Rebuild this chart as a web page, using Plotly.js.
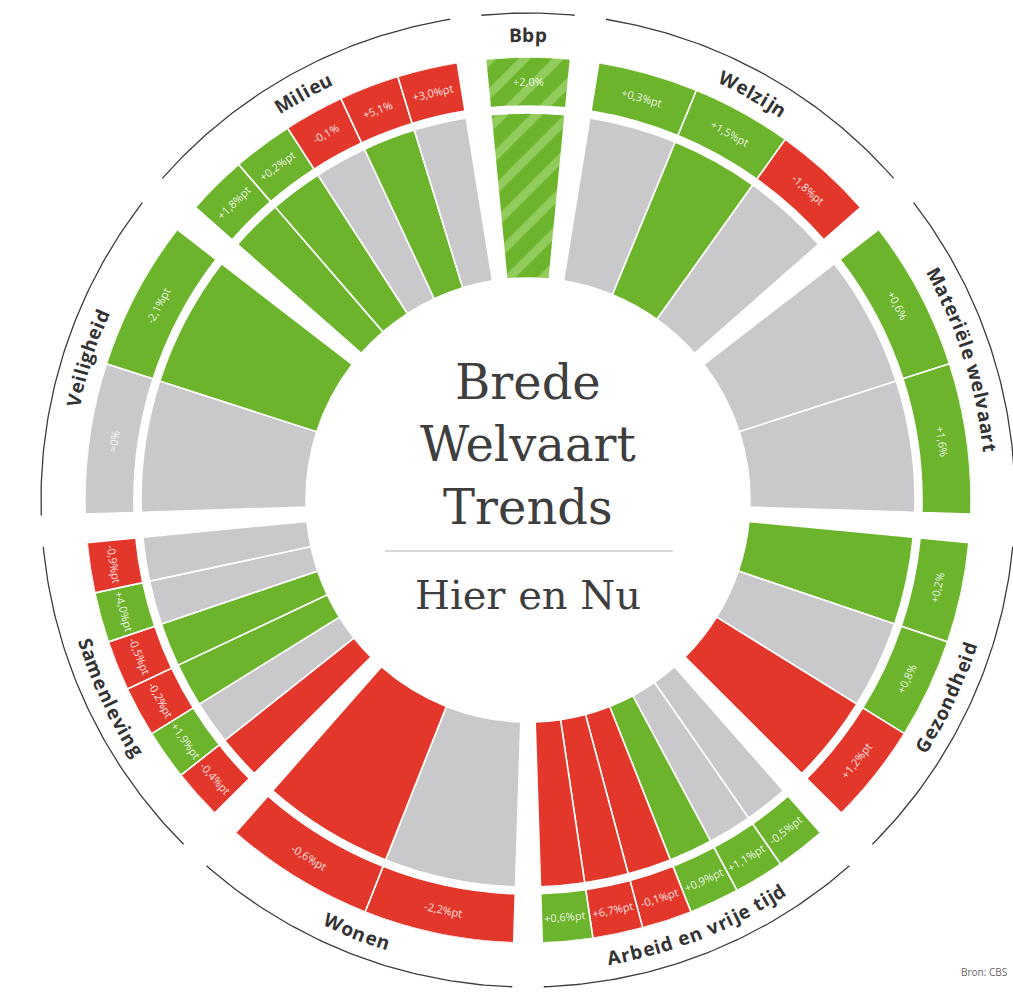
<!DOCTYPE html>
<html><head><meta charset="utf-8">
<script src="https://cdn.plot.ly/plotly-3.0.1.min.js"></script>
<style>html,body{margin:0;padding:0;background:#fff}#chart{width:1013px;height:997px}</style>
</head><body><div id="chart"></div>
<script>
// ---------- DATA (clockwise from the top) ----------
const categories = ['Bbp','Welzijn','Materiële welvaart','Gezondheid','Arbeid en vrije tijd','Wonen','Samenleving','Veiligheid','Milieu'];
// long-term trend per indicator (inner wedges): pos = improving, neu = stable, neg = worsening
const innerTrend = [
  ['pos'],
  ['neu','pos','neu'],
  ['neu','neu'],
  ['pos','neu','neg'],
  ['neu','neu','pos','neg','neg','neg'],
  ['neu','neg'],
  ['neg','neu','pos','pos','neu','neu'],
  ['neu','pos'],
  ['pos','pos','neu','pos','neu']
];
// latest-year trend per indicator (outer ring)
const outerTrend = [
  ['pos'],
  ['pos','pos','neg'],
  ['pos','pos'],
  ['pos','pos','neg'],
  ['pos','pos','pos','neg','neg','pos'],
  ['neg','neg'],
  ['neg','pos','neg','neg','pos','neg'],
  ['neu','pos'],
  ['pos','pos','neg','neg','neg']
];
// latest-year change labels (outer ring)
const outerChange = [
  ['+2,0%'],
  ['+0,3%pt','+1,5%pt','-1,8%pt'],
  ['+0,6%','+1,6%'],
  ['+0,2%','+0,8%','+1,2%pt'],
  ['-0,5%pt','+1,1%pt','+0,9%pt','-0,1%pt','+6,7%pt','+0,6%pt'],
  ['-2,2%pt','-0,6%pt'],
  ['-0,4%pt','+1,9%pt','-0,2%pt','-0,5%pt','+4,0%pt','-0,9%pt'],
  ['≈0%','-2,1%pt'],
  ['+1,8%pt','+0,2%pt','-0,1%','+5,1%','+3,0%pt']
];
const stripedCategories = ['Bbp'];
const centerTitle = ['Brede','Welvaart','Trends'];
const centerSubtitle = 'Hier en Nu';
const sourceNote = 'Bron: CBS';

// ---------- STYLE / GEOMETRY ----------
const W = 1013, H = 997;
const CX = 528, CY = 500;             // pixel centre (from top-left)
const R_HOLE = 222, R_IN_END = 387, R_OUT_START = 394, R_OUT_END = 443;
const R_VAL = (R_OUT_START + R_OUT_END) / 2, R_CAT = 465, R_ARC = 487;
const GAP = 3.7, BBP_SPAN = 11;
const COLORS = {pos:'#6cb42c', neu:'#c9c8ca', neg:'#e4372b'};
const STRIPE = '#92cc5c';
const TXT = '#333333';

const CAT_SPAN = (360 - BBP_SPAN - GAP * categories.length) / (categories.length - 1);
const spans = [];
let a0 = -BBP_SPAN / 2;
categories.forEach((c, i) => {
  const w = i === 0 ? BBP_SPAN : CAT_SPAN;
  spans.push([a0, a0 + w]);
  a0 += w + GAP;
});

const theta = [], width = [], inCol = [], outCol = [];
const striped = []; // separate traces so the pattern colours are honoured
const valAnns = [];
function ta(th) { // tangential text angle that stays readable
  let t = ((th % 360) + 360) % 360;
  if (t > 90 && t < 270) return t - 180;
  return t > 180 ? t - 360 : t;
}
const rad = d => d * Math.PI / 180;

categories.forEach((c, ci) => {
  const n = innerTrend[ci].length;
  const sw = (spans[ci][1] - spans[ci][0]) / n;
  for (let i = 0; i < n; i++) {
    const th = spans[ci][0] + sw * (i + 0.5);
    if (stripedCategories.includes(c)) {
      striped.push({th: th, w: sw, inC: COLORS[innerTrend[ci][i]], outC: COLORS[outerTrend[ci][i]]});
    } else {
      theta.push(th); width.push(sw);
      inCol.push(COLORS[innerTrend[ci][i]]);
      outCol.push(COLORS[outerTrend[ci][i]]);
    }
    valAnns.push({
      x: R_VAL * Math.sin(rad(th)), y: R_VAL * Math.cos(rad(th)), xref:'x', yref:'y',
      text: outerChange[ci][i], showarrow:false, textangle: ta(th),
      xanchor:'center', yanchor:'middle',
      font:{family:'Open Sans', size:11, color:'rgba(255,255,255,0.88)'}
    });
  }
});

const LINE = {color:'#ffffff', width:1.6};
const traces = [
  {type:'barpolar', theta: theta, r: theta.map(() => R_IN_END - R_HOLE), base: R_HOLE, width: width,
   marker:{color: inCol, line: LINE}, hoverinfo:'skip', showlegend:false},
  {type:'barpolar', theta: theta, r: theta.map(() => R_OUT_END - R_OUT_START), base: R_OUT_START, width: width,
   marker:{color: outCol, line: LINE}, hoverinfo:'skip', showlegend:false}
];
striped.forEach(s => {
  [[R_HOLE, R_IN_END, s.inC], [R_OUT_START, R_OUT_END, s.outC]].forEach(([b, e, col]) => {
    traces.push({type:'barpolar', theta:[s.th], r:[e - b], base: b, width:[s.w],
      marker:{color: col, line: LINE,
        pattern:{shape:'/', bgcolor: col, fgcolor: STRIPE, size: 24, solidity: 0.36, fillmode:'replace'}},
      hoverinfo:'skip', showlegend:false});
  });
});

// arcs around each category
const ax = [], ay = [];
spans.forEach(s => {
  const steps = 60;
  for (let k = 0; k <= steps; k++) {
    const th = s[0] + (s[1] - s[0]) * k / steps;
    ax.push(R_ARC * Math.sin(rad(th))); ay.push(R_ARC * Math.cos(rad(th)));
  }
  ax.push(null); ay.push(null);
});
traces.push({type:'scatter', mode:'lines', x: ax, y: ay, xaxis:'x', yaxis:'y',
  line:{color:'#3c3c3c', width:1.3}, hoverinfo:'skip', showlegend:false, cliponaxis:false});

// category labels laid out character by character along the arc
const catAnns = [];
const CAT_FONT = 19;
const ctx = document.createElement('canvas').getContext('2d');
ctx.font = "bold " + CAT_FONT + "px 'Open Sans'";
categories.forEach((c, ci) => {
  const thc = (spans[ci][0] + spans[ci][1]) / 2;
  const tn = ((thc % 360) + 360) % 360;
  const bottom = tn > 90 && tn < 270;
  const chars = [...c];
  const ws = chars.map(ch => ctx.measureText(ch).width + 0.8);
  const total = ws.reduce((s, w) => s + w, 0);
  let s = -total / 2;
  chars.forEach((ch, i) => {
    const mid = s + ws[i] / 2; s += ws[i];
    if (ch === ' ') return;
    const d = mid / R_CAT * 180 / Math.PI;
    const th = bottom ? thc - d : thc + d;
    catAnns.push({
      x: R_CAT * Math.sin(rad(th)), y: R_CAT * Math.cos(rad(th)), xref:'x', yref:'y',
      text: ch, showarrow:false, textangle: ta(th), xanchor:'center', yanchor:'middle',
      font:{family:'Open Sans', size:CAT_FONT, color:TXT, weight:700}
    });
  });
});

const centerAnns = [
  {x:0, y:56, xref:'x', yref:'y', text: centerTitle.join('<br>'), showarrow:false,
   xanchor:'center', yanchor:'middle', align:'center',
   font:{family:'DejaVu Serif', size:48, color:'#3e3e3e'}},
  {x:0, y:-95, xref:'x', yref:'y', text: centerSubtitle, showarrow:false,
   xanchor:'center', yanchor:'middle',
   font:{family:'DejaVu Serif', size:40, color:'#3e3e3e'}},
  {x:1009/W, y:(H-972)/H, xref:'paper', yref:'paper', text: sourceNote, showarrow:false,
   xanchor:'right', yanchor:'middle', font:{family:'Open Sans', size:10, color:'#666666'}}
];

const layout = {
  width: W, height: H, margin:{l:0, r:0, t:0, b:0},
  paper_bgcolor:'#ffffff', plot_bgcolor:'rgba(0,0,0,0)', showlegend:false, hovermode:false,
  xaxis:{domain:[0,1], range:[-CX, W-CX], visible:false, fixedrange:true},
  yaxis:{domain:[0,1], range:[-(H-CY), CY], visible:false, fixedrange:true},
  polar:{
    domain:{x:[(CX-R_OUT_END)/W, (CX+R_OUT_END)/W], y:[(H-CY-R_OUT_END)/H, (H-CY+R_OUT_END)/H]},
    bgcolor:'rgba(0,0,0,0)', hole:0,
    radialaxis:{visible:false, range:[0, R_OUT_END], showgrid:false, showline:false, showticklabels:false, ticks:''},
    angularaxis:{visible:false, rotation:90, direction:'clockwise', showgrid:false, showline:false, showticklabels:false, ticks:''}
  },
  shapes:[{type:'line', xref:'x', yref:'y', x0:-143, x1:145, y0:-51, y1:-51, line:{color:'#b5b5b5', width:1}}],
  annotations: valAnns.concat(catAnns, centerAnns)
};

Plotly.newPlot('chart', traces, layout, {displayModeBar:false, staticPlot:true});
</script></body></html>
